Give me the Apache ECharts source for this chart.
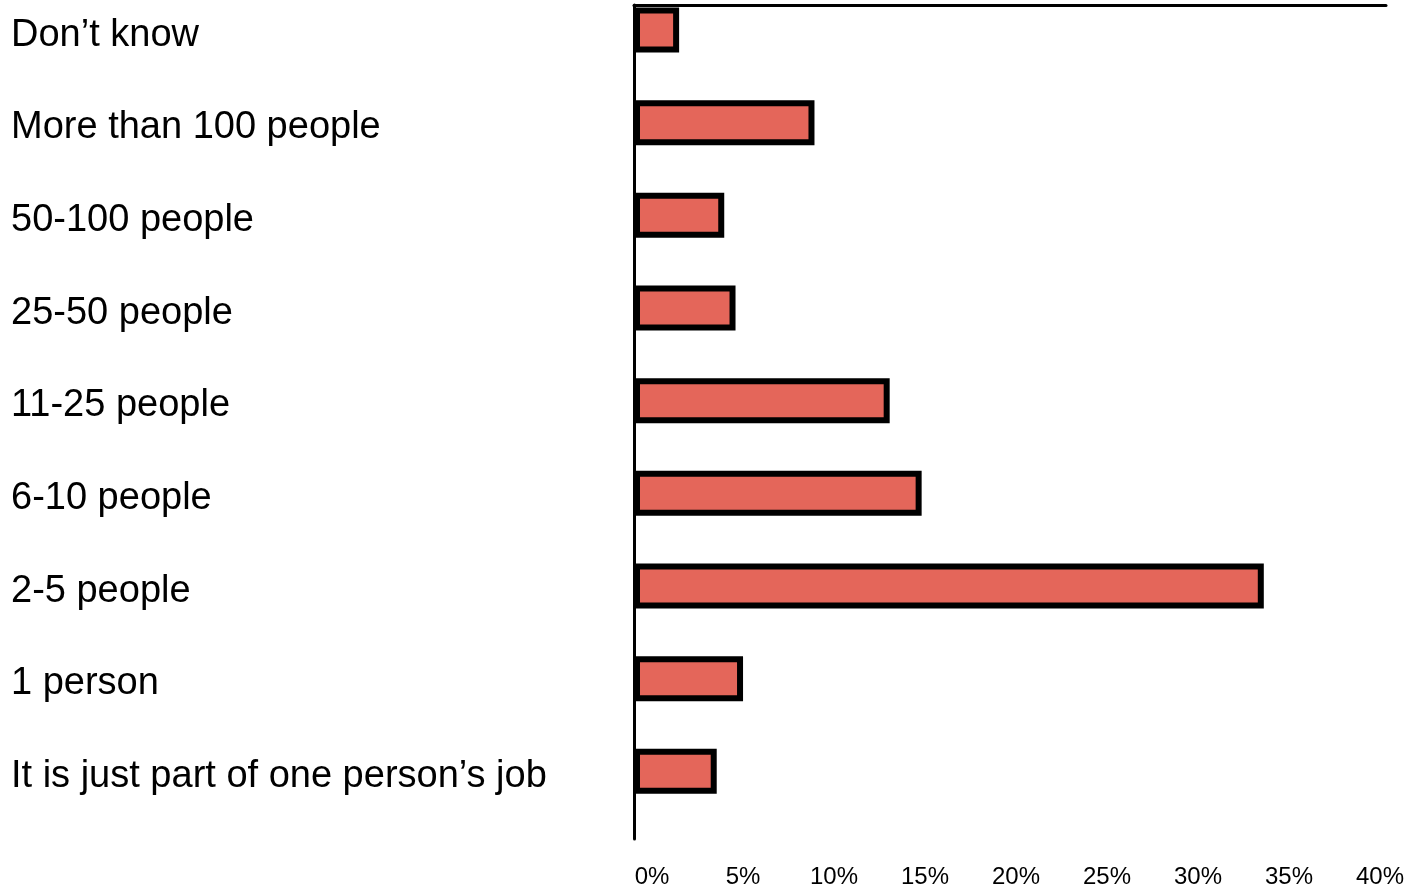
<!DOCTYPE html>
<html>
<head>
<meta charset="utf-8">
<script src="https://cdn.jsdelivr.net/npm/echarts@6/dist/echarts.min.js"></script>
<style>
  html, body { margin: 0; padding: 0; background: #ffffff; }
  #chart { width: 1409px; height: 887px; }
</style>
</head>
<body>
<div id="chart"></div>
<script>
// Team size answers, listed from the bottom row up to the top row
const categories = [
  "It is just part of one person’s job",
  "1 person",
  "2-5 people",
  "6-10 people",
  "11-25 people",
  "25-50 people",
  "50-100 people",
  "More than 100 people",
  "Don’t know"
];

// Share of respondents, in percent
const shares = [4.4, 5.8, 33.5, 15.3, 13.6, 5.4, 4.8, 9.6, 2.4];

// Percent scale
const scaleMin = 0;
const scaleMax = 40;
const scaleStep = 5;

const LABEL_FONT = "'Liberation Sans', Arial, Helvetica, sans-serif";

const chart = echarts.init(document.getElementById('chart'), null, { renderer: 'canvas' });

chart.setOption({
  animation: false,
  backgroundColor: '#ffffff',
  grid: [
    // plotting area
    { left: 634, right: 23, top: 5, bottom: 48 },
    // row that carries the percent labels
    { left: 652, right: 29, top: 836, height: 1 }
  ],
  xAxis: [
    {
      gridIndex: 0,
      type: 'value',
      position: 'top',
      min: scaleMin,
      max: scaleMax,
      interval: scaleStep,
      axisLine: { show: true, lineStyle: { color: '#000', width: 3 } },
      axisTick: { show: false },
      axisLabel: { show: false },
      splitLine: { show: false }
    },
    {
      gridIndex: 1,
      type: 'value',
      position: 'bottom',
      min: scaleMin,
      max: scaleMax,
      interval: scaleStep,
      axisLine: { show: false },
      axisTick: { show: false },
      splitLine: { show: false },
      axisLabel: {
        formatter: '{value}%',
        color: '#000',
        fontSize: 24,
        fontFamily: LABEL_FONT,
        margin: 29
      }
    }
  ],
  yAxis: [
    {
      gridIndex: 0,
      type: 'category',
      data: categories,
      axisLine: { show: true, lineStyle: { color: '#000', width: 3 } },
      axisTick: { show: false },
      splitLine: { show: false },
      axisLabel: {
        align: 'left',
        verticalAlign: 'bottom',
        lineHeight: 32,
        margin: 623,
        color: '#000',
        fontSize: 38,
        fontFamily: LABEL_FONT
      }
    },
    { gridIndex: 1, type: 'value', show: false }
  ],
  series: [
    {
      name: 'Share',
      type: 'bar',
      xAxisIndex: 0,
      yAxisIndex: 0,
      data: shares,
      barWidth: 45,
      barGap: '-5%',
      itemStyle: { color: '#E4665A', borderColor: '#000', borderWidth: 6 }
    },
    {
      // empty companion series: keeps the bars in the upper part of each row
      name: 'spacer',
      type: 'bar',
      xAxisIndex: 0,
      yAxisIndex: 0,
      data: [],
      barWidth: 45,
      silent: true,
      itemStyle: { color: 'transparent' }
    }
  ]
});
</script>
</body>
</html>
